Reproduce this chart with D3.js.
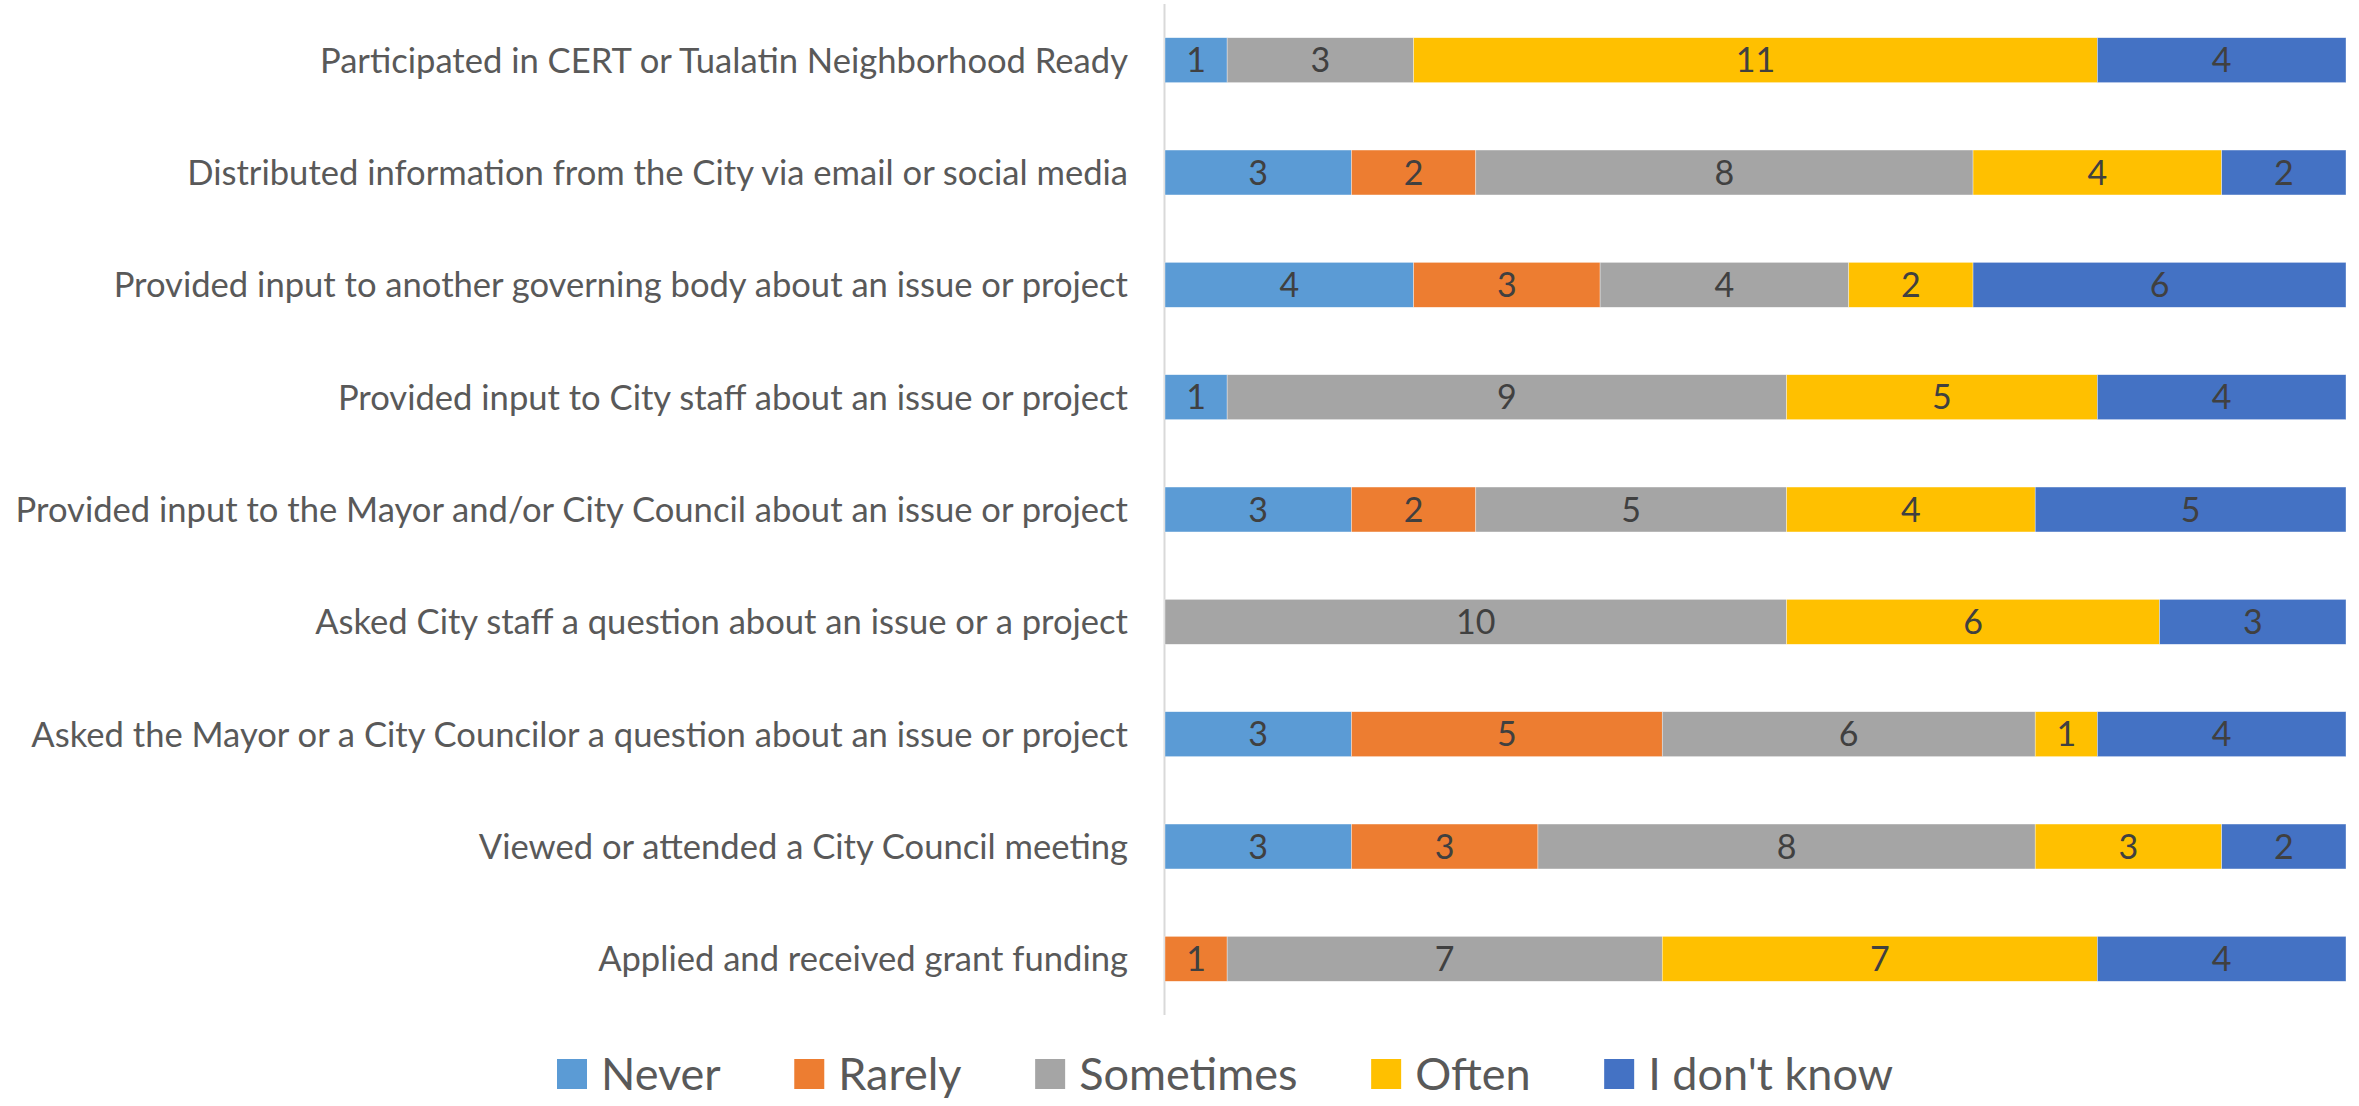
<!DOCTYPE html>
<html><head><meta charset="utf-8">
<script src="https://cdn.jsdelivr.net/npm/d3@7"></script>
<style>html,body{margin:0;padding:0;background:#fff;overflow:hidden}</style>
</head><body>
<svg id="chart" width="2359" height="1106"></svg>
<script>
const categories = [
  "Participated in CERT or Tualatin Neighborhood Ready",
  "Distributed information from the City via email or social media",
  "Provided input to another governing body about an issue or project",
  "Provided input to City staff about an issue or project",
  "Provided input to the Mayor and/or City Council about an issue or project",
  "Asked City staff a question about an issue or a project",
  "Asked the Mayor or a City Councilor a question about an issue or project",
  "Viewed or attended a City Council meeting",
  "Applied and received grant funding"
];
const seriesNames = ["Never", "Rarely", "Sometimes", "Often", "I don't know"];
const never     = [1, 3, 4, 1, 3, 0, 3, 3, 0];
const rarely    = [0, 2, 3, 0, 2, 0, 5, 3, 1];
const sometimes = [3, 8, 4, 9, 5, 10, 6, 8, 7];
const often     = [11, 4, 2, 5, 4, 6, 1, 3, 7];
const dontKnow  = [4, 2, 6, 4, 5, 3, 4, 2, 4];
const colors = ["#5B9BD5", "#ED7D31", "#A5A5A5", "#FFC000", "#4472C4"];

(function () {
const seriesValues = [never, rarely, sometimes, often, dontKnow];
const rows = categories.map((c, i) => {
  const r = {cat: c};
  seriesNames.forEach((s, j) => r[s] = seriesValues[j][i]);
  return r;
});
const stacked = d3.stack().keys(seriesNames)(rows);
const maxTotal = d3.max(rows, r => d3.sum(seriesNames, s => r[s]));

const svg = d3.select("#chart");
const FONT = "Lato, 'Open Sans', sans-serif";
const pLeft = 1165, pRight = 2346, pTop = 4, pBottom = 1015;

const x = d3.scaleLinear().domain([0, maxTotal]).range([pLeft, pRight]);
const y = d3.scaleBand().domain(categories).range([pTop, pBottom]).paddingInner(0.6).paddingOuter(0.3);

svg.append("line").attr("x1", pLeft - 0.5).attr("x2", pLeft - 0.5)
  .attr("y1", pTop).attr("y2", pBottom).attr("stroke", "#d9d9d9").attr("stroke-width", 2);

const g = svg.append("g");
stacked.forEach((layer, j) => {
  const lg = g.append("g").attr("fill", colors[j]);
  const data = layer.filter(d => d[1] - d[0] > 0);
  lg.selectAll("rect").data(data).join("rect")
    .attr("x", d => x(d[0])).attr("width", d => x(d[1]) - x(d[0]))
    .attr("y", d => y(d.data.cat)).attr("height", y.bandwidth())
    .attr("stroke", "#ffffff").attr("stroke-width", 0.6).attr("stroke-opacity", 0.6);
  lg.selectAll("text").data(data).join("text")
    .attr("x", d => (x(d[0]) + x(d[1])) / 2)
    .attr("y", d => y(d.data.cat) + y.bandwidth() / 2)
    .attr("dy", "0.36em").attr("text-anchor", "middle")
    .attr("fill", "#404040").attr("font-family", FONT).attr("font-size", 34)
    .text(d => d[1] - d[0]);
});

svg.append("g").selectAll("text").data(categories).join("text")
  .attr("x", 1128).attr("y", d => y(d) + y.bandwidth() / 2)
  .attr("dy", "0.36em").attr("text-anchor", "end")
  .attr("fill", "#595959").attr("font-family", FONT).attr("font-size", 34.6)
  .text(d => d);

// legend: spread to span the same extent as the reference
const legend = svg.append("g").attr("transform", "translate(557,1074)");
const lfs = 45, sq = 30, gapSq = 14, legendSpan = 1336;
const items = seriesNames.map((s, j) => {
  const it = legend.append("g");
  it.append("rect").attr("x", 0).attr("y", -sq / 2).attr("width", sq).attr("height", sq).attr("fill", colors[j]);
  const t = it.append("text").attr("x", sq + gapSq).attr("dy", "0.36em")
    .attr("fill", "#595959").attr("font-family", FONT).attr("font-size", lfs).text(s);
  return {it, w: sq + gapSq + t.node().getComputedTextLength()};
});
const gapItem = (legendSpan - d3.sum(items, d => d.w)) / (items.length - 1);
let cx = 0;
items.forEach(d => { d.it.attr("transform", `translate(${cx},0)`); cx += d.w + gapItem; });
})();
</script>
</body></html>
